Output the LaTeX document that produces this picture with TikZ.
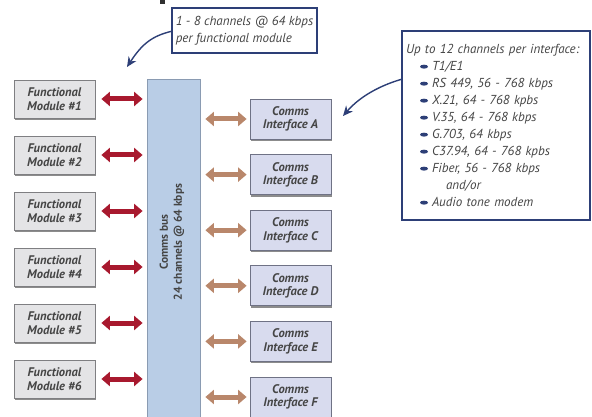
\documentclass[tikz,border=0pt]{standalone}
\usepackage{fontspec}
\setmainfont{PT Sans}
\usetikzlibrary{arrows.meta,shadows,calc}
\definecolor{fmfill}{HTML}{E4E4E6}
\definecolor{fmborder}{HTML}{7F7F82}
\definecolor{iffill}{HTML}{D8DBEE}
\definecolor{ifborder}{HTML}{6F7285}
\definecolor{busfill}{HTML}{B9CDE6}
\definecolor{busborder}{HTML}{8A9BB2}
\definecolor{redarr}{HTML}{A8192E}
\definecolor{brownarr}{HTML}{B9876B}
\definecolor{navy}{HTML}{2D3F77}
\definecolor{textgray}{HTML}{454545}
\newcommand\cbul{\tikz[baseline={(0,-0.3em)}]\fill[navy] (0,0) ellipse [x radius=4pt, y radius=2pt];}
\tikzset{
  boxshadow/.style={drop shadow={shadow xshift=1.2pt, shadow yshift=-2pt, fill=black, opacity=0.45}},
  fmbox/.style={draw=fmborder, fill=fmfill, line width=0.8pt, minimum width=81pt, minimum height=38pt,
    inner sep=0pt, align=center, text=textgray, font=\fontsize{12.5}{13.5}\selectfont\bfseries\itshape, boxshadow},
  ifbox/.style={draw=ifborder, fill=iffill, line width=0.8pt, minimum width=81pt, minimum height=40pt,
    inner sep=0pt, align=center, text=textgray, font=\fontsize{12.5}{13.5}\selectfont\bfseries\itshape, boxshadow},
  busbox/.style={draw=busborder, fill=busfill, line width=0.8pt, minimum width=53pt, inner sep=0pt},
  calloutbox/.style={draw=navy, fill=white, line width=1.3pt, inner sep=0pt, align=left, text=textgray,
    font=\fontsize{13}{17}\selectfont\itshape},
  redlink/.style={draw=redarr, line width=5pt, {Triangle[width=14pt,length=8.5pt]}-{Triangle[width=14pt,length=8.5pt]}},
  brownlink/.style={draw=brownarr, line width=5pt, {Triangle[width=14pt,length=8.5pt]}-{Triangle[width=14pt,length=8.5pt]}},
  pointer/.style={draw=navy, line width=1.4pt, -{Stealth[length=10pt,width=9pt]}},
}
\begin{document}
\begin{tikzpicture}[x=1pt,y=-1pt]
\useasboundingbox (0,0) rectangle (592,417);
\clip (0,0) rectangle (592,417);
\fill[white] (0,0) rectangle (592,417);
\fill[textgray!70!black] (160,0) rectangle (165,4.5);

% comms bus
\node[busbox, minimum height=360pt, anchor=north] (bus) at (173.5,79) {};
\node[rotate=90, align=center, text=textgray, font=\fontsize{11.5}{14}\selectfont\bfseries] (bustext) at (172,242)
  {Comms bus\\24 channels @ 64 kbps};

% functional modules
\foreach \i in {1,...,6}{
  \node[fmbox] (fm\i) at (54.5,{99+56*(\i-1)}) {Functional\\Module \#\i};
  \draw[redlink] ([xshift=6pt]fm\i.east) -- ([xshift=-4pt]bus.west |- fm\i.east);
}

% comms interfaces
\foreach \l [count=\i] in {A,B,C,D,E,F}{
  \node[ifbox] (if\l) at (290.5,{119+55.6*(\i-1)}) {Comms\\Interface \l};
  \draw[brownlink] ([xshift=5pt]bus.east |- if\l.west) -- ([xshift=-3pt]if\l.west);
}

% callout 1
\node[calloutbox, minimum width=145pt, minimum height=45pt] (c1) at (244.5,30.5)
  {1 - 8 channels @ 64 kbps\\per functional module};
\coordinate (t1) at (127,67);
\draw[pointer] ($(c1.north west)+(0,24)$) .. controls (152,36) and (142,44) .. (t1);

% callout 2
\node[calloutbox, minimum width=188pt, minimum height=189pt, text width=180pt, inner xsep=4pt] (c2) at (496,125.5)
  {Up to 12 channels per interface:\\
   \hspace*{14pt}\cbul\hspace{4pt}T1/E1\\
   \hspace*{14pt}\cbul\hspace{4pt}RS 449, 56 - 768 kbps\\
   \hspace*{14pt}\cbul\hspace{4pt}X.21, 64 - 768 kpbs\\
   \hspace*{14pt}\cbul\hspace{4pt}V.35, 64 - 768 kbps\\
   \hspace*{14pt}\cbul\hspace{4pt}G.703, 64 kbps\\
   \hspace*{14pt}\cbul\hspace{4pt}C37.94, 64 - 768 kpbs\\
   \hspace*{14pt}\cbul\hspace{4pt}Fiber, 56 - 768 kbps\\
   \hspace*{40pt}and/or\\
   \hspace*{14pt}\cbul\hspace{4pt}Audio tone modem};
\coordinate (t2) at (343,116);
\draw[pointer] ($(c2.north west)+(0,49)$) .. controls (385,84) and (362,94) .. (t2);
\end{tikzpicture}
\end{document}
